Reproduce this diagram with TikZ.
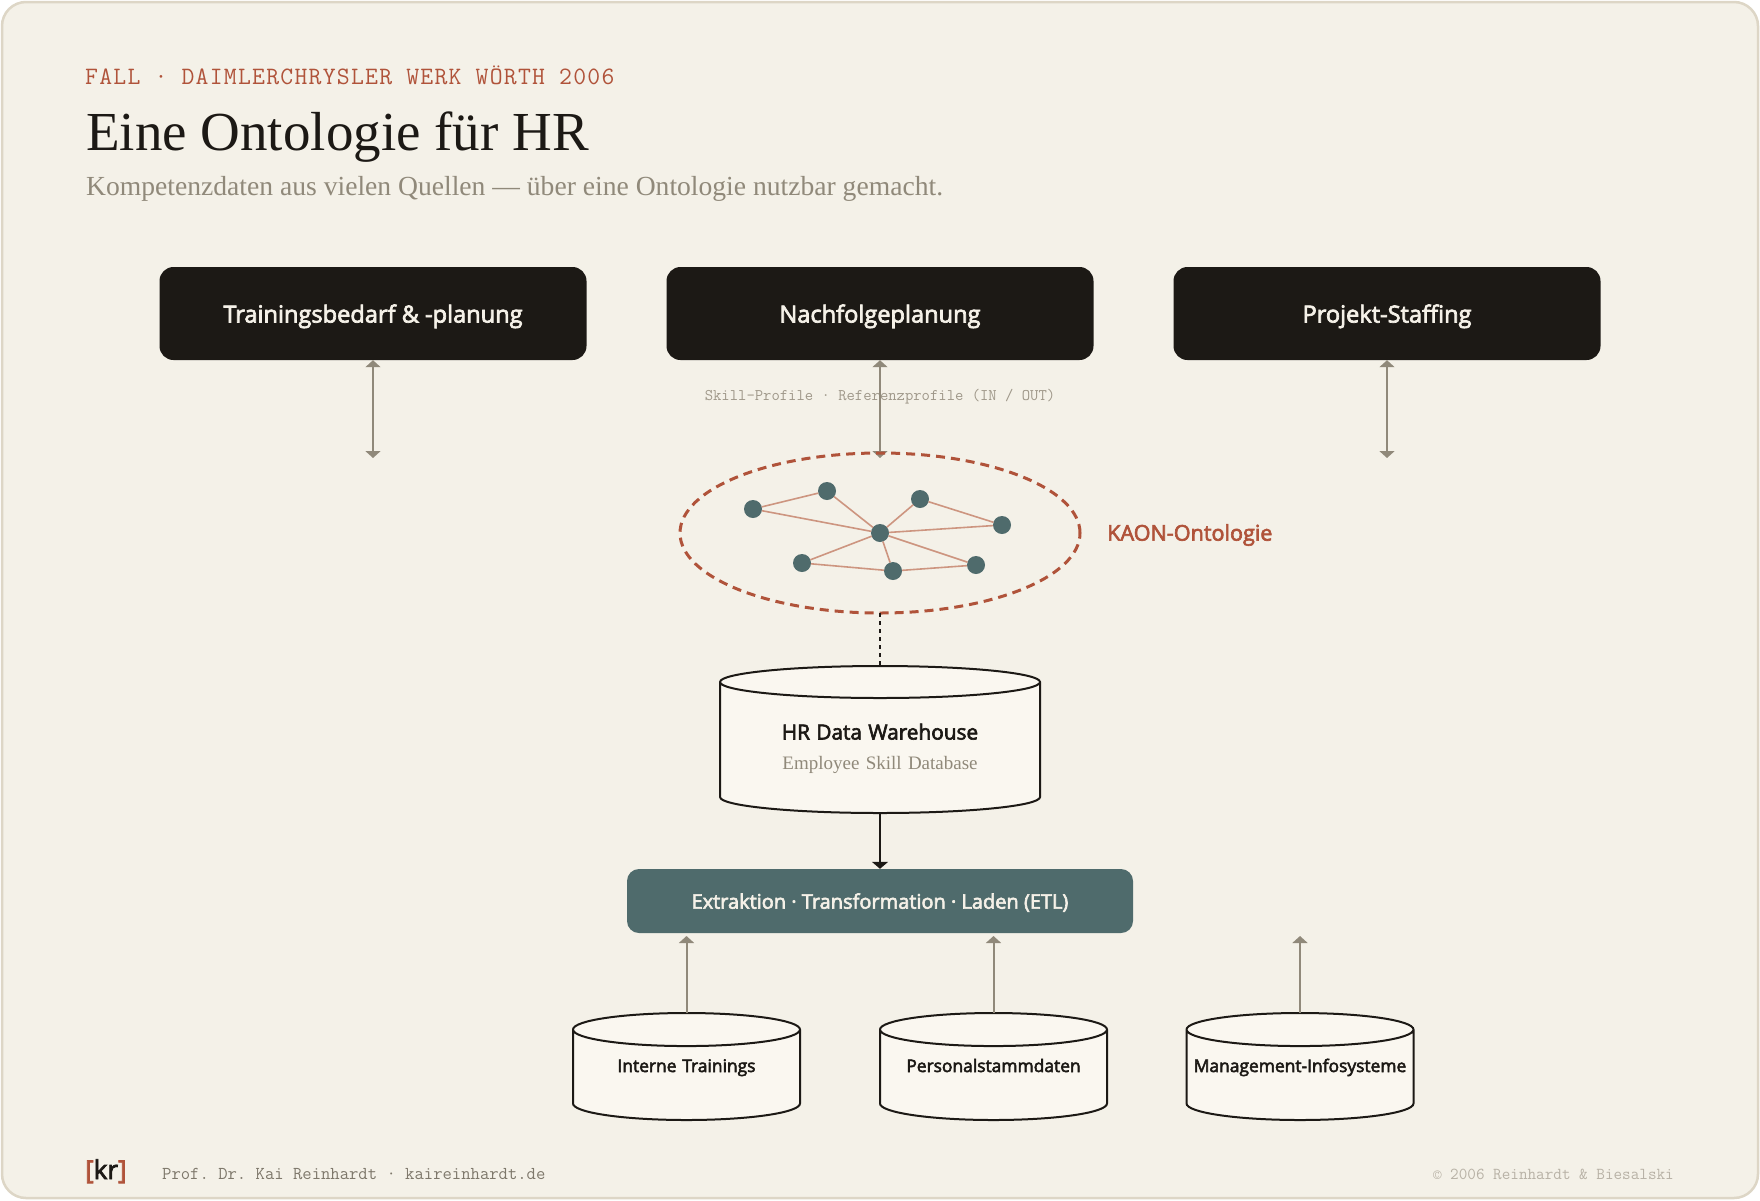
\documentclass[tikz,border=0pt]{standalone}
\usepackage{fontspec}
\usetikzlibrary{arrows.meta,shapes.geometric}
\setmainfont{Liberation Serif}
\setsansfont{Open Sans}
\setmonofont{Latin Modern Mono}
\newfontfamily\semifont[FakeBold=3]{Open Sans}
\newfontfamily\widemono[LetterSpace=5]{Latin Modern Mono}
\newcommand{\pxfont}[1]{\fontsize{#1}{#1}\selectfont}
\definecolor{paper}{HTML}{F4F1E8}
\definecolor{rim}{HTML}{DDD6C6}
\definecolor{ink}{HTML}{1C1915}
\definecolor{rust}{HTML}{B0533A}
\definecolor{teal}{HTML}{4F6B6C}
\definecolor{stone}{HTML}{90897A}
\definecolor{pale}{HTML}{FAF7F0}
\definecolor{cream}{HTML}{F5F1E8}
\definecolor{link}{HTML}{CD9580}
\tikzset{
  usebox/.style={draw=none,fill=ink,rounded corners=14,minimum width=427,minimum height=93,text depth=0,text=cream,font=\semifont\pxfont{23.6}},
  etlbox/.style={draw=none,fill=teal,rounded corners=12,minimum width=506,minimum height=64,text depth=0,text=cream,font=\semifont\pxfont{20}},
  bigdb/.style={cylinder,shape border rotate=90,aspect=0.16,draw=ink,line width=2,fill=pale,minimum width=320,minimum height=147,text width=200,align=center,text height=15,text depth=32,font=\fontsize{19}{30}\selectfont,anchor=shape center,inner sep=0,outer sep=0},
  smalldb/.style={cylinder,shape border rotate=90,aspect=0.153,draw=ink,line width=2,fill=pale,minimum width=227,minimum height=107,text width=216,align=center,text height=12.5,text depth=19,text=ink,font=\semifont\pxfont{17.4},anchor=shape center,inner sep=0,outer sep=0},
  onto/.style={circle,fill=teal,minimum size=18,inner sep=0,outer sep=0},
  ontoline/.style={draw=link,line width=1.6},
  twoway/.style={draw=stone,line width=2.8,{Triangle[length=7,width=15]}-{Triangle[length=7,width=15]}},
  oneway/.style={draw=stone,line width=2,-{Triangle[length=7,width=15]}},
  feed/.style={draw=ink,line width=2.8,-{Triangle[length=7,width=16]}}
}
\begin{document}
\begin{tikzpicture}[x=1pt,y=-1pt]
  \useasboundingbox (0,0) rectangle (1760,1200);
  \draw[rim,fill=paper,line width=2.5,rounded corners=24] (2,2) rectangle (1758,1198);

  \node[anchor=base west,inner sep=0,text=rust,font=\widemono\pxfont{25}] (kicker) at (85,84) {FALL · DAIMLERCHRYSLER WERK WÖRTH 2006};
  \node[anchor=base west,inner sep=0,text=ink,font=\rmfamily\pxfont{55}] (title) at (86,150) {Eine Ontologie für HR};
  \node[anchor=base west,inner sep=0,text=stone,font=\rmfamily\pxfont{27.6}] (subtitle) at (86,195) {Kompetenzdaten aus vielen Quellen — über eine Ontologie nutzbar gemacht.};

  \node[usebox] (train) at (373,313.5) {Trainingsbedarf \& -planung};
  \node[usebox] (succ) at (880,313.5) {Nachfolgeplanung};
  \node[usebox] (staff) at (1387,313.5) {Projekt-Staffing};

  \node[inner sep=0,text=stone!85!paper,font=\ttfamily\pxfont{16.2}] (profile) at (880,397) {Skill-Profile · Referenzprofile (IN / OUT)};

  \coordinate (trainend) at (373,458);
  \coordinate (succend) at (880,458);
  \coordinate (staffend) at (1387,458);
  \draw[twoway] (train.south) -- (trainend);
  \draw[twoway] (succ.south) -- (succend);
  \draw[twoway] (staff.south) -- (staffend);

  \node[ellipse,draw=rust,line width=3,dash pattern=on 9 off 6,minimum width=400,minimum height=160,inner sep=0,outer sep=0] (kaon) at (880,533) {};
  \node[anchor=west,inner sep=0,text=rust,font=\semifont\pxfont{21.6}] (kaonlabel) at (1107,535) {KAON-Ontologie};

  \node[onto] (hub) at (880,533) {};
  \node[onto] (a) at (753,509) {};
  \node[onto] (b) at (827,491) {};
  \node[onto] (c) at (920,499) {};
  \node[onto] (d) at (1002,525) {};
  \node[onto] (e) at (802,563) {};
  \node[onto] (f) at (893,571) {};
  \node[onto] (g) at (976,565) {};
  \draw[ontoline] (a) -- (b);
  \draw[ontoline] (a) -- (hub);
  \draw[ontoline] (b) -- (hub);
  \draw[ontoline] (c) -- (hub);
  \draw[ontoline] (c) -- (d);
  \draw[ontoline] (hub) -- (d);
  \draw[ontoline] (hub) -- (e);
  \draw[ontoline] (hub) -- (f);
  \draw[ontoline] (hub) -- (g);
  \draw[ontoline] (e) -- (f);
  \draw[ontoline] (f) -- (g);

  \node[bigdb] (dwh) at (880,739.5) {{\semifont\pxfont{20.8}\color{ink}HR Data Warehouse}\\{\rmfamily\color{stone}Employee Skill Database}};
  \draw[ink,line width=2,dash pattern=on 4 off 4] (kaon.south) -- (dwh.north);

  \node[etlbox] (etl) at (880,901) {Extraktion · Transformation · Laden (ETL)};
  \draw[feed] (dwh.south) -- (etl.north);

  \node[smalldb] (src1) at (686.5,1066.5) {Interne Trainings};
  \node[smalldb] (src2) at (993.5,1066.5) {Personalstammdaten};
  \node[smalldb] (src3) at (1300,1066.5) {Management-Infosysteme};
  \coordinate (src1end) at (686.5,936);
  \coordinate (src2end) at (993.5,936);
  \coordinate (src3end) at (1300,936);
  \draw[oneway] (src1.north) -- (src1end);
  \draw[oneway] (src2.north) -- (src2end);
  \draw[oneway] (src3.north) -- (src3end);

  \node[anchor=base west,inner sep=0,text=ink,font=\semifont\pxfont{26}] (logo) at (85,1179) {\textcolor{rust}{[}kr\textcolor{rust}{]}};
  \node[anchor=base west,inner sep=0,text=stone!85!ink,font=\ttfamily\pxfont{18.15}] (foot) at (162,1179) {Prof. Dr. Kai Reinhardt · kaireinhardt.de};
  \node[anchor=base east,inner sep=0,text=stone!60!paper,font=\ttfamily\pxfont{16.7}] (copy) at (1674,1179) {© 2006 Reinhardt \& Biesalski};
\end{tikzpicture}
\end{document}
